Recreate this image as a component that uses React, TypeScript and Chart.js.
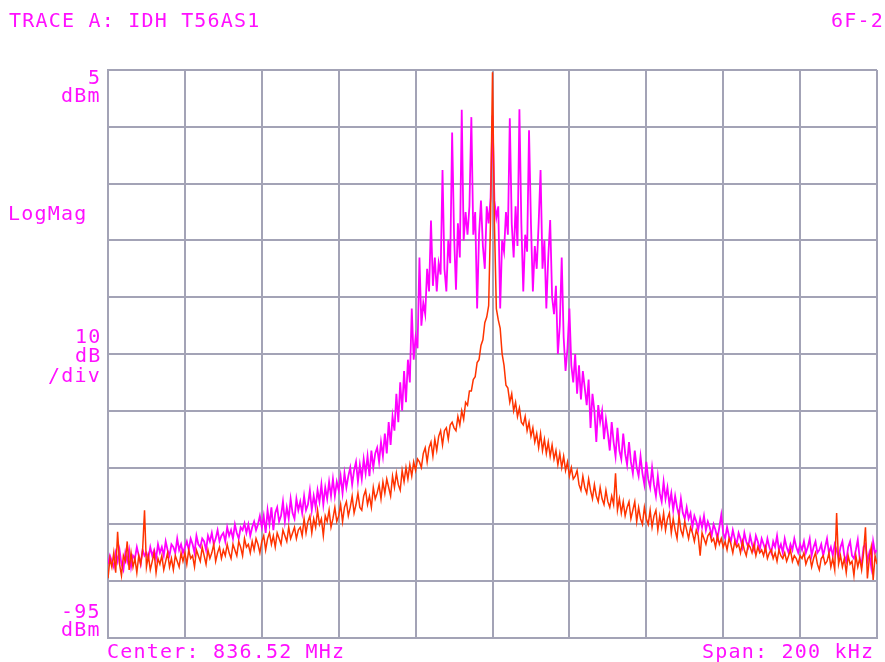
import React, { useEffect, useRef } from "react";
import { Chart, registerables } from "chart.js";

Chart.register(...registerables);

// Frequency offset from center (kHz): span 200 kHz, 0.5 kHz per point
const CENTER_LABEL = "Center: 836.52 MHz";
const SPAN_LABEL = "Span: 200 kHz";
const freqKHz: number[] = Array.from({ length: 401 }, (_, i) => -100 + i * 0.5);

// Red trace (dBm), -100 kHz .. +100 kHz, one row per 10 kHz
const redTrace: number[] = [
  -84.5, -81, -82.5, -80, -83.5, -76.3, -82, -84, -80.5, -81.5, -78, -83, -80, -82.5, -81, -83.5, -80.5, -82, -79.5, -72.5,
  -82.5, -80.5, -83, -81.5, -80, -83.5, -81, -82, -80.5, -83, -81.5, -80, -82.5, -81, -83, -80.5, -81.5, -82.5, -80, -81.5,
  -80, -82, -79.5, -81, -80.5, -82.5, -79.5, -80.5, -81.5, -79, -80.5, -82, -79.5, -81, -80, -78.5, -81.5, -80, -79, -81,
  -79.5, -80.5, -78.5, -80, -81, -78.5, -79.5, -80.5, -78, -79, -80.5, -77.5, -79, -78.5, -80, -78, -79.5, -77.5, -78.5, -80,
  -78, -77, -79.5, -77.5, -76.5, -78.5, -77, -79, -76.5, -77.5, -78.5, -76, -77, -78, -75.5, -77.5, -76.5, -75.5, -77.5, -76,
  -75.5, -77, -74, -76.5, -74.5, -73.5, -76.5, -74, -75.5, -72.5, -75, -74, -77, -73.5, -74.5, -72.5, -75.5, -74, -72, -74.5,
  -73.5, -71.5, -74.5, -72, -71, -73.5, -72, -70, -73, -71.5, -69.5, -72, -72.5, -70, -69, -71.5, -70, -72, -68.5, -70.5,
  -69.5, -68, -70.5, -67.5, -69.5, -67, -68.5, -70, -66.5, -68.5, -66, -68, -69, -65.5, -67.5, -65, -67, -64.5, -66.5, -64,
  -65.5, -63.5, -64, -65, -62.5, -61.5, -64, -61.5, -60.5, -63, -60, -62, -59.5, -58.5, -61, -58.5, -58, -60, -57.5, -57,
  -58, -58.5, -56, -57.5, -55, -56.5, -53.5, -54, -51.5, -51.5, -49.5, -49, -46.5, -46, -43.5, -42.5, -39.5, -38.5, -36.5, -21,
  4.6,
  -22, -37, -39, -40.5, -45, -47, -50.5, -51, -53.5, -52, -55, -53.5, -56, -54.5, -57, -57.5, -56, -58.5, -57, -59.5,
  -58, -60.5, -59, -61.5, -59, -62, -60, -62.5, -60.5, -63, -61, -63.5, -62, -64.5, -62.5, -65, -63, -65.5, -64, -66.5,
  -65, -67, -66.5, -65.5, -68, -69, -66.5, -68.5, -69.5, -67, -69, -70.5, -68, -70, -71, -68.5, -70.5, -71.5, -69, -71,
  -72, -70, -71.5, -66, -72.5, -70.5, -73, -71, -73.5, -72, -71, -74, -72.5, -71, -74.5, -72, -74, -75, -72, -74,
  -75, -72.5, -75.5, -73.5, -72.5, -76, -73.5, -75.5, -73, -76, -74, -73, -76.5, -74, -76, -77.5, -73.5, -76, -77, -74.5,
  -76, -77.5, -75.5, -76.5, -78, -76, -77, -80.5, -76.5, -77.5, -78.5, -77, -76.5, -78, -77.5, -79, -77, -78.5, -77.5, -79,
  -78, -79.5, -77.5, -78.5, -80, -78, -79, -78.5, -80, -78, -79.5, -80.5, -78.5, -79, -80, -78.5, -80.5, -79, -80, -79.5,
  -80.5, -79, -81, -80, -79.5, -81, -80, -81.5, -79.5, -80.5, -81, -80, -81.5, -80.5, -79.5, -81.5, -80.5, -81, -82, -80.5,
  -81, -80, -82, -81, -80.5, -82.5, -81, -80, -82, -83, -81, -80.5, -82, -81.5, -80, -82.5, -81, -83, -73, -82,
  -80.5, -82.5, -81, -83.5, -80.5, -82, -81.5, -84, -80.5, -82.5, -81, -83, -80, -75.5, -84.5, -81, -79, -84.8, -80.5, -82,
];

// Magenta trace (dBm), -100 kHz .. +100 kHz, one row per 10 kHz
const magentaTrace: number[] = [
  -82, -80.5, -81.5, -82.5, -80, -81.5, -79.5, -82, -83, -80, -81.5, -79.5, -82.5, -80.5, -81, -79, -80.5, -82, -79.5, -80.5,
  -80, -81, -79, -80.5, -79.5, -81, -78.5, -80, -79, -80.5, -78, -79.5, -80.5, -78.5, -79, -80, -77.5, -79.5, -78.5, -80,
  -79, -78, -79.5, -77.5, -78.5, -80, -77, -78.5, -79, -77.5, -78, -79.5, -77, -78, -76.5, -78.5, -77.5, -76, -78, -77,
  -76.5, -78, -75.5, -77, -76, -77.5, -75, -76.5, -77.5, -75.5, -76, -74.8, -76.5, -75, -77, -75.5, -74.5, -76, -75, -73.5,
  -75.5, -73.5, -76.5, -72.5, -75, -72, -76, -73, -72, -74.5, -73.5, -71, -74.5, -72, -74, -70.5, -73, -74, -70.5, -72.5,
  -71, -73, -70, -72.5, -71.5, -69, -72.5, -70, -72, -69, -71, -68, -71.5, -68.5, -70.5, -67.5, -70, -67, -70, -67.5,
  -69, -66.5, -69.5, -66, -68.5, -66.5, -65, -68, -65.5, -64, -67.5, -64.5, -67, -63.5, -66, -63, -66.5, -62, -65, -62.5,
  -61.5, -64, -60.5, -63, -59, -62.5, -57, -61, -56, -58.5, -52, -57, -50, -55, -48, -53.5, -46, -50, -37, -46,
  -42, -44, -28, -40, -36, -38, -30, -34, -21.5, -33, -28, -34, -29, -31, -12.6, -30, -34, -25, -29, -6,
  -24, -33.7, -22, -28, -2, -25, -20, -24, -19, -3.3, -24, -20, -37, -24, -18, -26, -30, -19, -22, -17.5,
  -3,
  -18, -21, -19, -37, -25, -27, -20, -24, -3.5, -22, -28, -19, -26, -1.9, -22, -34, -24, -27, -5.6, -22,
  -34, -26, -30, -22, -12.6, -30, -25, -37, -28, -21.4, -35, -38, -33, -45, -40, -28, -42, -48, -44, -37,
  -47, -50, -45, -52, -47, -53, -48, -51, -54, -49.5, -58, -52, -55, -60.5, -54, -57, -55, -60, -56.5, -59,
  -62, -57, -60.5, -63, -58, -62, -63.5, -59, -62.5, -64.5, -60.5, -64, -66, -62, -65, -66.5, -63, -66, -68, -64,
  -67, -68.5, -65, -68, -70, -66.5, -69.5, -71, -67.5, -70.5, -68.5, -71.5, -69.5, -72.5, -70, -72, -73.5, -70.5, -73, -74,
  -72, -74, -73, -75.5, -73.5, -74.5, -76, -74, -75.5, -73.5, -76, -74.5, -75.5, -77, -75, -76, -77.5, -75.5, -73.3, -76.5,
  -77.5, -75.5, -77, -78, -76, -77.5, -78.5, -76.5, -77.5, -79, -76.5, -78, -79, -77, -78.5, -79.5, -77, -78, -79.5, -77.5,
  -78.5, -79.5, -77.5, -79, -80, -78, -79, -77, -79.5, -78.5, -80, -77.5, -79, -80, -78.5, -79.5, -77.5, -79, -80, -78.5,
  -79.5, -78, -80, -79, -77.5, -80.5, -79, -78, -80, -79.5, -78.5, -80.5, -79, -77.5, -80, -79, -80.5, -78.5, -79.5, -81,
  -79, -78, -80.5, -81.5, -79, -78, -80.5, -81, -79.5, -77.7, -81, -82, -79, -78.5, -81.5, -80, -82.5, -78, -80, -79.5,
];

const Y_MIN = -95;
const Y_MAX = 5;

const GRID = "#a3a3b6";
const MAGENTA = "#ff00ff";
const RED = "#ff3300";
const TEXT = "#ff10ff";

type Label = { text: string; left: number; baseline: number };
const labels: Label[] = [
  { text: "TRACE A: IDH T56AS1", left: 9, baseline: 26.5 },
  { text: "6F-2", left: 831, baseline: 26.5 },
  { text: "5", left: 88, baseline: 83.5 },
  { text: "dBm", left: 61, baseline: 101.5 },
  { text: "LogMag", left: 8, baseline: 220 },
  { text: "10", left: 75, baseline: 343 },
  { text: "dB", left: 75, baseline: 362 },
  { text: "/div", left: 48, baseline: 382 },
  { text: "-95", left: 61, baseline: 618 },
  { text: "dBm", left: 61, baseline: 636 },
  { text: CENTER_LABEL, left: 107, baseline: 658 },
  { text: SPAN_LABEL, left: 702, baseline: 658 },
];

const FONT_SIZE = 20;
const BASELINE_OFFSET = 16.9;

export default function App() {
  const canvasRef = useRef<HTMLCanvasElement | null>(null);

  useEffect(() => {
    const canvas = canvasRef.current;
    if (!canvas) return;
    const chart = new Chart(canvas, {
      type: "line",
      data: {
        datasets: [
          {
            label: "Trace B",
            data: freqKHz.map((f, i) => ({ x: f, y: redTrace[i] })),
            borderColor: RED,
            backgroundColor: RED,
            borderWidth: 1.5,
            pointRadius: 0,
            tension: 0,
            order: 0,
          },
          {
            label: "Trace A",
            data: freqKHz.map((f, i) => ({ x: f, y: magentaTrace[i] })),
            borderColor: MAGENTA,
            backgroundColor: MAGENTA,
            borderWidth: 1.8,
            pointRadius: 0,
            tension: 0,
            order: 1,
          },
        ],
      },
      options: {
        animation: false,
        responsive: false,
        devicePixelRatio: 1,
        layout: { padding: { left: 108, top: 70, right: 8, bottom: 24 } },
        plugins: { legend: { display: false }, tooltip: { enabled: false } },
        scales: {
          x: {
            type: "linear",
            min: -100,
            max: 100,
            ticks: { display: false, stepSize: 20 },
            grid: { color: GRID, lineWidth: 2, drawTicks: false },
            border: { display: true, color: GRID, width: 2 },
          },
          y: {
            type: "linear",
            min: Y_MIN,
            max: Y_MAX,
            ticks: { display: false, stepSize: 10 },
            grid: { color: GRID, lineWidth: 2, drawTicks: false },
            border: { display: true, color: GRID, width: 2 },
          },
        },
      },
    });
    return () => chart.destroy();
  }, []);

  return (
    <div
      style={{
        position: "absolute",
        left: 0,
        top: 0,
        width: 885,
        height: 662,
        background: "#ffffff",
        overflow: "hidden",
      }}
    >
      <canvas ref={canvasRef} width={885} height={662} style={{ position: "absolute", left: 0, top: 0 }} />
      {labels.map((l, i) => (
        <span
          key={i}
          style={{
            position: "absolute",
            left: l.left,
            top: l.baseline - BASELINE_OFFSET,
            fontFamily: "'DejaVu Sans Mono', monospace",
            fontSize: FONT_SIZE,
            lineHeight: 1,
            letterSpacing: "1.2px",
            color: TEXT,
            whiteSpace: "pre",
          }}
        >
          {l.text}
        </span>
      ))}
    </div>
  );
}
